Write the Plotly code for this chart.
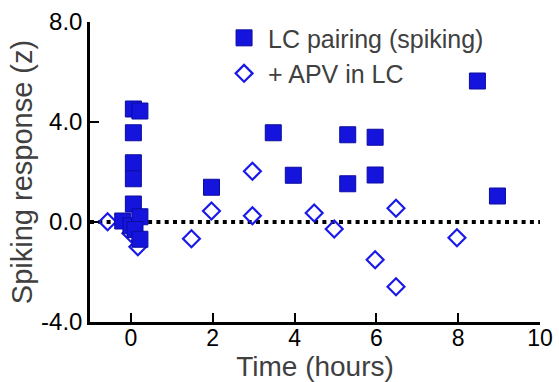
import plotly.graph_objects as go

# LC pairing (spiking) - filled squares
sq_x = [0.06, 0.22, 0.06, 0.06, 0.06, 0.06, -0.2, 0.0, 0.22, 0.1, 0.22,
        1.97, 3.48, 3.97, 5.3, 5.3, 5.97, 5.97, 8.47, 8.96]
sq_y = [4.52, 4.44, 3.57, 2.37, 1.73, 0.72, 0.04, -0.15, 0.21, -0.3, -0.69,
        1.39, 3.57, 1.87, 3.49, 1.53, 3.39, 1.88, 5.64, 1.04]

# + APV in LC - open diamonds
di_x = [-0.57, 0.0, 0.17, 1.48, 1.97, 2.97, 2.97, 4.48, 4.97, 5.97, 6.48, 6.48, 7.97]
di_y = [0.01, -0.45, -0.99, -0.67, 0.44, 2.03, 0.25, 0.36, -0.28, -1.51, 0.55, -2.59, -0.63]

x_ticks = [0, 2, 4, 6, 8, 10]
y_ticks = [-4, 0, 4, 8]
y_tick_labels = ["-4.0", "0.0", "4.0", "8.0"]

fig = go.Figure()

fig.add_trace(go.Scatter(
    x=[-1, 10], y=[0, 0], mode="lines",
    line=dict(color="black", width=4, dash="4px,4.3px"),
    showlegend=False, hoverinfo="skip"))

fig.add_trace(go.Scatter(
    x=di_x, y=di_y, mode="markers", name="+ APV in LC",
    marker=dict(symbol="diamond-open", size=13, color="#1a1ae8",
                line=dict(width=2.2, color="#1a1ae8"))))

fig.add_trace(go.Scatter(
    x=sq_x, y=sq_y, mode="markers", name="LC pairing (spiking)",
    marker=dict(symbol="square", size=16, color="#1414dc",
                line=dict(width=1, color="#0c0ca0"))))

font_family = "Liberation Sans, Arial, sans-serif"

fig.update_layout(
    width=559, height=382,
    margin=dict(l=90, r=19, t=22, b=60),
    plot_bgcolor="white", paper_bgcolor="white",
    font=dict(family=font_family, size=24, color="black"),
    legend=dict(x=0.289, y=1.023, xanchor="left", yanchor="top",
                traceorder="reversed", itemwidth=38,
                font=dict(size=25, color="#404040", family=font_family),
                bgcolor="rgba(0,0,0,0)", itemsizing="trace"),
    xaxis=dict(range=[-1, 10], tickvals=x_ticks, showgrid=False, zeroline=False,
               showline=True, linecolor="black", linewidth=2.5, automargin=False,
               ticks="inside", ticklen=9, tickwidth=2, tickcolor="black",
               ticklabelstandoff=-6,
               tickfont=dict(size=23, color="black"),
               title=dict(text="Time (hours)", font=dict(size=28, color="#404040"), standoff=3)),
    yaxis=dict(range=[-4, 8], tickvals=y_ticks, ticktext=y_tick_labels,
               showgrid=False, zeroline=False, automargin=False,
               showline=True, linecolor="black", linewidth=2.5,
               ticks="inside", ticklen=9, tickwidth=2, tickcolor="black",
               tickfont=dict(size=24, color="black"),
               title=dict(text="Spiking response (z)", font=dict(size=29, color="#404040"), standoff=0)),
)

fig.write_html("out.html")
